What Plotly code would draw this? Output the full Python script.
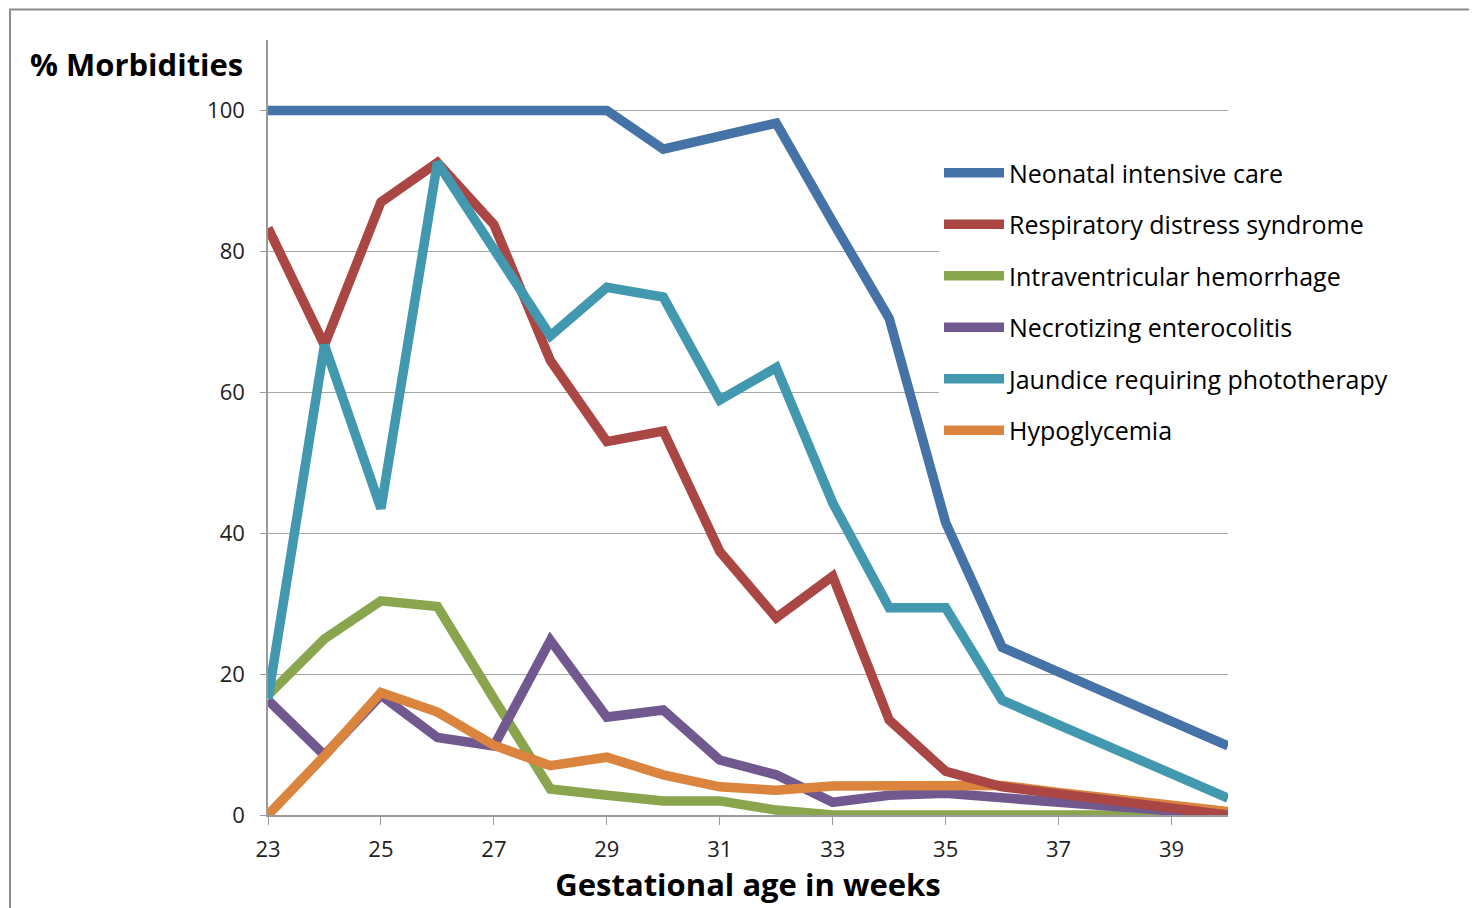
import plotly.graph_objects as go

weeks = list(range(23, 41))
nicu = [100, 100, 100, 100, 100, 100, 100, 94.5, 96.3, 98.2, 84.2, 70.5, 41.5, 23.8, 20.3, 16.8, 13.3, 9.8]
rds = [83.3, 66.7, 87.0, 92.6, 83.8, 64.5, 53.0, 54.5, 37.4, 28.0, 33.9, 13.5, 6.2, 4.0, 3.0, 2.0, 1.0, 0.0]
ivh = [17.0, 25.0, 30.4, 29.6, 16.5, 3.7, 2.8, 2.0, 2.0, 0.7, 0.0, 0.0, 0.0, 0.0, 0.0, 0.0, 0.0, 0.0]
nec = [16.3, 8.5, 17.0, 11.0, 9.8, 24.8, 13.9, 14.9, 7.8, 5.7, 1.8, 2.8, 3.1, 2.3, 1.8, 1.2, 0.5, 0.0]
jaundice = [16.5, 66.7, 43.5, 92.6, 80.3, 68.0, 74.9, 73.5, 58.9, 63.5, 44.3, 29.4, 29.4, 16.3, 12.8, 9.3, 5.9, 2.4]
hypo = [0.0, 8.4, 17.4, 14.6, 9.9, 7.0, 8.2, 5.7, 4.0, 3.5, 4.1, 4.2, 4.2, 4.2, 3.2, 2.2, 1.2, 0.5]

series = [
    ("Neonatal intensive care", nicu, "#4572A7"),
    ("Respiratory distress syndrome", rds, "#AA4643"),
    ("Intraventricular hemorrhage", ivh, "#89A54E"),
    ("Necrotizing enterocolitis", nec, "#71588F"),
    ("Jaundice requiring phototherapy", jaundice, "#4198AF"),
    ("Hypoglycemia", hypo, "#DB843D"),
]
draw_order = [2, 3, 5, 1, 4, 0]

x_ticks = list(range(23, 41, 2))
y_ticks = [0, 20, 40, 60, 80, 100]

fig = go.Figure()
for i in draw_order:
    name, vals, col = series[i]
    fig.add_trace(go.Scatter(
        x=weeks, y=vals, mode="lines", name=name, legendgroup=name,
        legendrank=i + 1,
        line=dict(color=col, width=9.5, shape="linear"),
        hoverinfo="x+y+name",
    ))

# page body has an 8px margin; work in page coords then shift
OFF = 8
W, H = 1477 - OFF, 908 - OFF
L, R, T, B = 268 - OFF, 1228 - OFF, 40 - OFF, 815 - OFF


def px(xp):
    return (xp - OFF - L) / (R - L)


def py(yp):
    return (B - (yp - OFF)) / (B - T)


fig.update_layout(
    width=W, height=H,
    margin=dict(l=L, r=W - R, t=T, b=H - B),
    paper_bgcolor="white", plot_bgcolor="white",
    font=dict(family="Open Sans, sans-serif", color="#000000"),
    showlegend=True,
    legend=dict(
        x=px(939), y=py(150), xanchor="left", yanchor="top",
        bgcolor="white", font=dict(size=25, color="#000000"),
        tracegroupgap=16, itemwidth=60, traceorder="grouped",
    ),
    xaxis=dict(
        range=[23, 40], tickvals=x_ticks, ticktext=[str(v) for v in x_ticks],
        showgrid=False, zeroline=False, showline=True, linecolor="#9a9a9a", linewidth=1.5,
        ticks="outside", ticklen=8, tickcolor="#9a9a9a", ticklabelstandoff=6,
        tickfont=dict(size=22, color="#222222"),
        title=dict(text="<b>Gestational age in weeks</b>", font=dict(size=31, color="#000000"), standoff=4),
    ),
    yaxis=dict(
        range=[0, 110], tickvals=y_ticks, ticktext=[str(v) for v in y_ticks],
        showgrid=True, gridcolor="#a6a6a6", gridwidth=1.2, zeroline=False,
        showline=True, linecolor="#9a9a9a", linewidth=1.5,
        ticks="outside", ticklen=6, tickcolor="#9a9a9a", ticklabelstandoff=11,
        tickfont=dict(size=22, color="#222222"),
    ),
    annotations=[
        dict(text="<b>% Morbidities</b>", xref="paper", yref="paper",
             x=px(245), y=py(64), xanchor="right", yanchor="middle",
             showarrow=False, font=dict(size=31, color="#000000")),
    ],
    shapes=[
        dict(type="rect", xref="paper", yref="paper",
             x0=px(10), x1=px(1500), y0=py(930), y1=py(9.5),
             line=dict(color="#8c8c8c", width=2), fillcolor="rgba(0,0,0,0)", layer="below"),
    ],
)

fig.write_html("out.html")
